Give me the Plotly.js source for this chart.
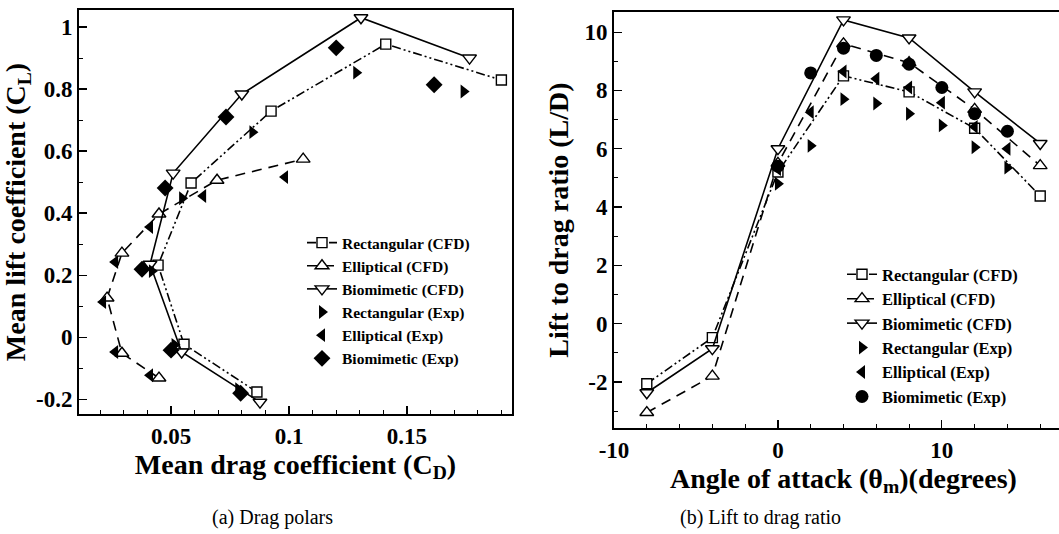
<!DOCTYPE html>
<html>
<head>
<meta charset="utf-8">
<script src="https://cdn.plot.ly/plotly-3.0.1.min.js"></script>
<style>
html,body{margin:0;padding:0;overflow:hidden;background:#fff;}
#chart{width:1076px;height:534px;}
</style>
</head>
<body>
<div id="chart"></div>
<script>
// ---------- (a) Drag polars : mean drag coefficient vs mean lift coefficient ----------
const rectCFD_CD = [0.0864, 0.0555, 0.0445, 0.0585, 0.0924, 0.1410, 0.1900];
const rectCFD_CL = [-0.177, -0.023, 0.232, 0.497, 0.729, 0.945, 0.829];
const ellCFD_CD  = [0.0449, 0.0292, 0.0229, 0.0292, 0.0449, 0.0695, 0.1060];
const ellCFD_CL  = [-0.132, -0.052, 0.126, 0.271, 0.397, 0.506, 0.574];
const bioCFD_CD  = [0.0877, 0.0545, 0.0411, 0.0509, 0.0800, 0.1305, 0.1765];
const bioCFD_CL  = [-0.210, -0.048, 0.235, 0.529, 0.784, 1.030, 0.900];

const rectExp_CD = [0.0785, 0.0515, 0.0419, 0.0547, 0.0845, 0.1285, 0.1740];
const rectExp_CL = [-0.168, -0.025, 0.213, 0.448, 0.661, 0.853, 0.792];
const ellExp_CD  = [0.0411, 0.0263, 0.0212, 0.0263, 0.0411, 0.0636, 0.0983];
const ellExp_CL  = [-0.123, -0.048, 0.113, 0.242, 0.355, 0.455, 0.516];
const bioExp_CD  = [0.0795, 0.0500, 0.0377, 0.0475, 0.0733, 0.1200, 0.1615];
const bioExp_CL  = [-0.181, -0.042, 0.219, 0.481, 0.710, 0.933, 0.814];

// ---------- (b) Lift to drag ratio vs angle of attack ----------
const aoaCFD   = [-8, -4, 0, 4, 8, 12, 16];
const rectCFD_LD = [-2.06, -0.48, 5.2, 8.5, 7.95, 6.7, 4.38];
const ellCFD_LD  = [-3.05, -1.8, 5.5, 9.6, 8.95, 7.35, 5.42];
const bioCFD_LD  = [-2.37, -0.86, 6.0, 10.42, 9.8, 7.95, 6.18];

const aoaExp   = [0, 2, 4, 6, 8, 10, 12, 14];
const rectExp_LD = [4.8, 6.1, 7.7, 7.55, 7.2, 6.8, 6.05, 5.35];
const ellExp_LD  = [5.3, 7.25, 8.65, 8.4, 8.1, 7.58, 6.75, 6.0];
const bioExp_LD  = [5.4, 8.6, 9.45, 9.2, 8.9, 8.1, 7.2, 6.6];

// ---------- tick labels ----------
const aXTicks = [0.05, 0.1, 0.15];
const aXLabels = ['0.05', '0.1', '0.15'];
const aYTicks = [-0.2, 0, 0.2, 0.4, 0.6, 0.8, 1];
const aYLabels = ['-0.2', '0', '0.2', '0.4', '0.6', '0.8', '1'];
const bXTicks = [-10, 0, 10];
const bXLabels = ['-10', '0', '10'];
const bYTicks = [-2, 0, 2, 4, 6, 8, 10];
const bYLabels = ['-2', '0', '2', '4', '6', '8', '10'];

const seriesNames = ['Rectangular (CFD)', 'Elliptical (CFD)', 'Biomimetic (CFD)',
                     'Rectangular (Exp)', 'Elliptical (Exp)', 'Biomimetic (Exp)'];

// ---------- styling ----------
const W = 1076, H = 534;
const SERIF = 'Liberation Serif';
const dashRect = '9px,3px,2px,3px,2px,3px';
const dashEll = '10px,7px';

function cfd(x, y, name, sym, dash, xa, ya, leg) {
  return {x: x, y: y, name: name, type: 'scatter', mode: 'lines+markers',
    xaxis: xa, yaxis: ya, legend: leg,
    line: {color: 'black', width: 1.6, dash: dash},
    marker: {symbol: sym, size: sym === 'square' ? 10 : 12, color: 'white',
             line: {color: 'black', width: 1.4}}};
}
function exp(x, y, name, sym, size, xa, ya, leg) {
  return {x: x, y: y, name: name, type: 'scatter', mode: 'markers',
    xaxis: xa, yaxis: ya, legend: leg,
    marker: {symbol: sym, size: size, color: 'black', line: {color: 'black', width: 0}}};
}

const traces = [
  cfd(rectCFD_CD, rectCFD_CL, seriesNames[0], 'square', dashRect, 'x', 'y', 'legend'),
  cfd(ellCFD_CD, ellCFD_CL, seriesNames[1], 'triangle-up', dashEll, 'x', 'y', 'legend'),
  cfd(bioCFD_CD, bioCFD_CL, seriesNames[2], 'triangle-down', 'solid', 'x', 'y', 'legend'),
  exp(rectExp_CD, rectExp_CL, seriesNames[3], 'triangle-right', 12, 'x', 'y', 'legend'),
  exp(ellExp_CD, ellExp_CL, seriesNames[4], 'triangle-left', 12, 'x', 'y', 'legend'),
  exp(bioExp_CD, bioExp_CL, seriesNames[5], 'diamond', 13, 'x', 'y', 'legend'),

  cfd(aoaCFD, rectCFD_LD, seriesNames[0], 'square', dashRect, 'x2', 'y2', 'legend2'),
  cfd(aoaCFD, ellCFD_LD, seriesNames[1], 'triangle-up', dashEll, 'x2', 'y2', 'legend2'),
  cfd(aoaCFD, bioCFD_LD, seriesNames[2], 'triangle-down', 'solid', 'x2', 'y2', 'legend2'),
  exp(aoaExp, rectExp_LD, seriesNames[3], 'triangle-right', 12, 'x2', 'y2', 'legend2'),
  exp(aoaExp, ellExp_LD, seriesNames[4], 'triangle-left', 12, 'x2', 'y2', 'legend2'),
  exp(aoaExp, bioExp_LD, seriesNames[5], 'circle', 13, 'x2', 'y2', 'legend2')
];

const tickFont = {family: SERIF, size: 23, color: 'black', weight: 'bold'};
const titleFont = {family: SERIF, size: 28, color: 'black', weight: 'bold'};
function axis(extra) {
  return Object.assign({
    showgrid: false, zeroline: false, showline: true, mirror: true,
    linecolor: 'black', linewidth: 2, ticks: 'inside', ticklen: 8, tickwidth: 1.2,
    tickcolor: 'black', tickmode: 'array', tickfont: tickFont, fixedrange: true
  }, extra);
}

const layout = {
  width: W, height: H, margin: {l: 0, r: 0, t: 0, b: 0},
  paper_bgcolor: 'white', plot_bgcolor: 'white', showlegend: true,
  font: {family: SERIF, color: 'black'},
  xaxis: axis({domain: [79 / W, 512 / W], range: [0.011, 0.1945], anchor: 'y',
    tickvals: aXTicks, ticktext: aXLabels,
    minor: {tickmode: 'linear', tick0: 0, dtick: 0.01, ticks: 'inside', ticklen: 4, tickcolor: 'black', tickwidth: 1},
    title: {text: 'Mean drag coefficient (C<sub>D</sub>)', font: titleFont, standoff: 2}}),
  yaxis: axis({domain: [1 - 414 / H, 1 - 10 / H], range: [-0.248, 1.055], anchor: 'x',
    tickvals: aYTicks, ticktext: aYLabels,
    minor: {tickmode: 'linear', tick0: 0, dtick: 0.1, ticks: 'inside', ticklen: 4, tickcolor: 'black', tickwidth: 1},
    title: {text: 'Mean lift coefficient (C<sub>L</sub>)', font: titleFont, standoff: 6}}),
  xaxis2: axis({domain: [614 / W, 1073 / W], range: [-10, 18], anchor: 'y2',
    tickvals: bXTicks, ticktext: bXLabels,
    minor: {tickmode: 'linear', tick0: 0, dtick: 2, ticks: 'inside', ticklen: 4, tickcolor: 'black', tickwidth: 1},
    title: {text: 'Angle of attack (θ<sub>m</sub>)(degrees)', font: titleFont, standoff: 2}}),
  yaxis2: axis({domain: [1 - 428 / H, 1 - 12 / H], range: [-3.58, 10.69], anchor: 'x2',
    tickvals: bYTicks, ticktext: bYLabels,
    minor: {tickmode: 'linear', tick0: 0, dtick: 1, ticks: 'inside', ticklen: 4, tickcolor: 'black', tickwidth: 1},
    title: {text: 'Lift to drag ratio (L/D)', font: titleFont, standoff: 8}}),
  legend: {x: 302 / W, y: 1 - 226 / H, xanchor: 'left', yanchor: 'top',
    bgcolor: 'rgba(0,0,0,0)', borderwidth: 0, tracegroupgap: 0,
    font: {family: SERIF, size: 15.5, color: 'black', weight: 'bold'}},
  legend2: {x: 842 / W, y: 1 - 257 / H, xanchor: 'left', yanchor: 'top',
    bgcolor: 'rgba(0,0,0,0)', borderwidth: 0, tracegroupgap: 0,
    font: {family: SERIF, size: 16.5, color: 'black', weight: 'bold'}},
  annotations: [
    {text: '(a) Drag polars', xref: 'paper', yref: 'paper', x: 272 / W, y: 1 - 517 / H,
     xanchor: 'center', yanchor: 'middle', showarrow: false,
     font: {family: SERIF, size: 20, color: 'black'}},
    {text: '(b) Lift to drag ratio', xref: 'paper', yref: 'paper', x: 760 / W, y: 1 - 517 / H,
     xanchor: 'center', yanchor: 'middle', showarrow: false,
     font: {family: SERIF, size: 20, color: 'black'}}
  ]
};

Plotly.newPlot('chart', traces, layout, {displayModeBar: false, staticPlot: true});
</script>
</body>
</html>
